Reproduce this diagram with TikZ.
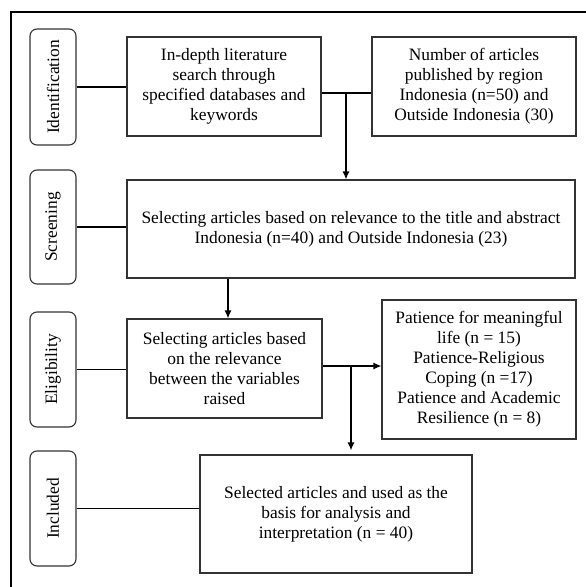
\documentclass[tikz,border=0pt]{standalone}
\usepackage{fontspec}
\setmainfont{Liberation Serif}
\usetikzlibrary{positioning, arrows.meta, calc}

\begin{document}
\begin{tikzpicture}[x=1pt, y=-1pt,
	stage/.style={draw=black!80, line width=1.1pt, rounded corners=7pt, rotate=90,
		minimum width=115pt, minimum height=46pt, inner sep=0pt},
	stepbox/.style={draw=black!80, line width=1.1pt, rectangle, text centered,
		align=center, inner sep=0pt},
	link/.style={line width=1.3pt},
	arr/.style={line width=1.3pt, -{Latex[length=8pt, width=7pt]}},
	font=\fontsize{17.4}{20}\selectfont]

	\useasboundingbox (0,0) rectangle (586,587);

	%Frame
	\draw[line width=1.3pt] (586,12) -- (11,12) -- (11,587);

	%Stages
	\node (Identification) at (53,87) [stage, minimum width=116pt]{Identification};
	\node (Screening) at (53,227) [stage, minimum width=114pt]{Screening};
	\node (Eligibility) at (53,369.5) [stage]{Eligibility};
	\node (Included) at (53,508.5) [stage]{Included};

	%Blocks
	\node (Search) at (224,86.5) [stepbox, minimum width=194pt, minimum 
	height=99pt]{In-depth literature\\search through\\specified databases and\\keywords};

	\node (Region) at (474,86.5) [stepbox, minimum width=204pt, minimum 
	height=99pt]{Number of articles\\published by region\\Indonesia (n=50) and\\Outside Indonesia (30)};

	\node (Abstract) at (351,229) [stepbox, minimum width=448pt, minimum 
	height=98pt]{Selecting articles based on relevance to the title and abstract\\Indonesia (n=40) and Outside Indonesia (23)};

	\node (Variables) at (224.5,368.5) [stepbox, minimum width=195pt, minimum 
	height=99pt]{Selecting articles based\\on the relevance\\between the variables\\raised};

	\node (Patience) at (479,369.5) [stepbox, minimum width=194pt, minimum 
	height=139pt]{Patience for meaningful\\life (n = 15)\\Patience-Religious\\Coping (n =17)\\Patience and Academic\\Resilience (n = 8)};

	\node (Selected) at (336,514) [stepbox, minimum width=272pt, minimum 
	height=118pt]{Selected articles and used as the\\basis for analysis and\\interpretation (n = 40)};

	%Links
	\coordinate (SplitA) at (346,93);
	\coordinate (SplitB) at (351,366);
	\draw[link] (Identification) -- (Identification -| Search.west);
	\draw[link] (Screening) -- (Screening -| Abstract.west);
	\draw[link] (Eligibility) -- (Eligibility -| Variables.west);
	\draw[link] (Included) -- (Included -| Selected.west);
	\draw[link] (Search.east |- SplitA) -- (Region.west |- SplitA);
	\draw[arr] (SplitA) -- (Abstract.north -| SplitA);
	\draw[arr] (Abstract.south -| 228,0) -- (Variables.north -| 228,0);
	\draw[arr] (Variables.east |- SplitB) -- (Patience.west |- SplitB);
	\draw[arr] (SplitB) -- ($(Selected.north -| SplitB)+(0,-4)$);

\end{tikzpicture}
\end{document}
